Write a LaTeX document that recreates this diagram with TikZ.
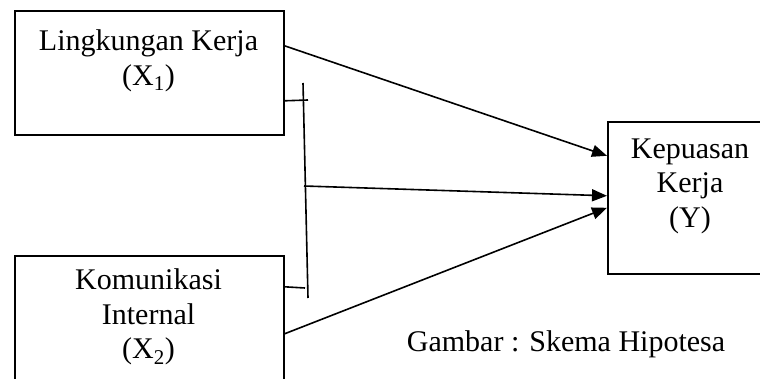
\documentclass[tikz,border=0pt]{standalone}
\usepackage{fontspec}
\setmainfont{Liberation Serif}
\usetikzlibrary{arrows.meta}
\tikzset{
  box/.style={draw, line width=1.6pt, inner sep=0pt, anchor=north west},
  lbl/.style={align=center, inner sep=0pt, font=\fontsize{30}{34.5}\selectfont},
  wire/.style={line width=1.6pt},
  arr/.style={line width=1.6pt, -{Triangle[length=15pt,width=12pt]}},
}
\begin{document}
\begin{tikzpicture}[x=1pt,y=-1pt]
\useasboundingbox (0,0) rectangle (760,379);
\clip (0,0) rectangle (760,379);

% boxes
\node[box, minimum width=269pt, minimum height=124pt] (x1) at (14,10) {};
\node[box, minimum width=269pt, minimum height=130pt] (x2) at (14,255) {};
\node[box, minimum width=166pt, minimum height=152pt] (y) at (607,121) {};

% labels
\node[lbl] (t1) at (148.5,61) {Lingkungan Kerja\\(X\textsubscript{1})};
\node[lbl] (t2) at (148.5,317) {Komunikasi\\Internal\\(X\textsubscript{2})};
\node[lbl] (ty) at (690,186) {Kepuasan\\Kerja\\(Y)};
\node[lbl] (cap) at (566,344) {Gambar : Skema Hipotesa};

% joint bar with ticks
\coordinate (bartop) at (303,83);
\coordinate (barbot) at (308,298);
\coordinate (barmid) at (304,186);
\coordinate (tickA) at (308,100);
\coordinate (tickB) at (305,288);
\draw[wire] (bartop) -- (barbot);
\draw[wire] ([yshift=-28pt]x1.east) -- (tickA);
\draw[wire] ([yshift=34pt]x2.east) -- (tickB);

% arrows into Y
\draw[arr] ([yshift=27pt]x1.east) -- ([yshift=42pt]y.west);
\draw[arr] (barmid) -- ([yshift=2pt]y.west);
\draw[arr] ([yshift=-13pt]x2.east) -- ([yshift=-10pt]y.west);
\end{tikzpicture}
\end{document}
